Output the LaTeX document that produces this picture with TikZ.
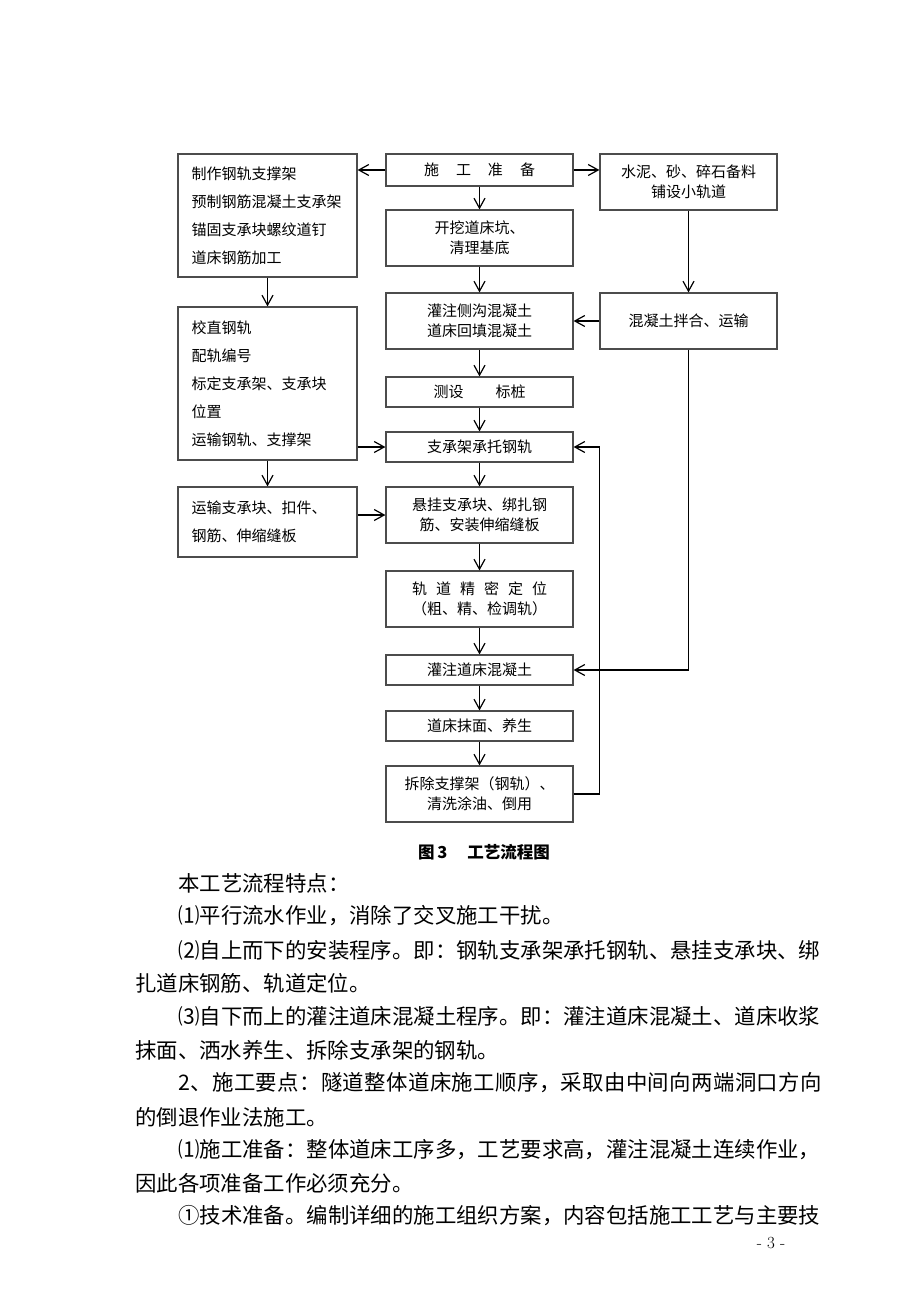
\documentclass[tikz,border=0pt]{standalone}
\usepackage{fontspec}
\newfontfamily\cjk{Noto Sans CJK SC}
\newfontfamily\cjkwide[LetterSpace=1.8]{Noto Sans CJK SC}
\usetikzlibrary{arrows.meta}

\tikzset{
  flow/.style={draw=black!70, line width=1.2pt, font=\cjk\fontsize{15pt}{20pt}\selectfont, align=center, inner sep=2pt},
  mid/.style={flow, minimum width=187pt},
  side/.style={flow, minimum width=177pt},
  list/.style={draw=black!70, line width=1.2pt, font=\cjk\fontsize{15pt}{28pt}\selectfont, align=left, text width=152pt, inner xsep=13.5pt},
  go/.style={-{Straight Barb[length=10pt,width=11pt]}, line width=1.2pt},
  body/.style={font=\cjk\fontsize{21.4pt}{21.4pt}\selectfont, anchor=west, inner sep=0pt}
}

\begin{document}
\begin{tikzpicture}[x=1pt,y=-1pt]
\useasboundingbox (0,0) rectangle (920,1300);

% middle column
\node[mid, minimum height=32pt] (prep) at (479.5,170) {施\hspace{17pt}工\hspace{17pt}准\hspace{17pt}备};
\node[mid, minimum height=56pt] (dig) at (479.5,238) {开挖道床坑、\\清理基底};
\node[mid, minimum height=56pt] (ditch) at (479.5,321) {灌注侧沟混凝土\\道床回填混凝土};
\node[mid, minimum height=30pt] (survey) at (479.5,392) {测设\hspace{32pt}标桩};
\node[mid, minimum height=30pt] (hold) at (479.5,447) {支承架承托钢轨};
\node[mid, minimum height=56pt] (hang) at (479.5,515) {悬挂支承块、绑扎钢\\筋、安装伸缩缝板};
\node[mid, minimum height=56pt] (align) at (479.5,599) {轨\hspace{9pt}道\hspace{9pt}精\hspace{9pt}密\hspace{9pt}定\hspace{9pt}位\\（粗、精、检调轨）};
\node[mid, minimum height=30pt] (pour) at (479.5,670) {灌注道床混凝土};
\node[mid, minimum height=30pt] (cure) at (479.5,726) {道床抹面、养生};
\node[mid, minimum height=56pt] (strip) at (479.5,794) {拆除支撑架（钢轨）、\\清洗涂油、倒用};

% left column
\node[list, minimum height=123pt] (make) at (267.5,215.5) {制作钢轨支撑架\\预制钢筋混凝土支承架\\锚固支承块螺纹道钉\\道床钢筋加工};
\node[list, minimum height=153pt] (rail) at (267.5,383.5) {校直钢轨\\配轨编号\\标定支承架、支承块\\位置\\运输钢轨、支撑架};
\node[list, minimum height=70pt] (haul) at (267.5,522) {运输支承块、扣件、\\钢筋、伸缩缝板};

% right column
\node[side, minimum height=56pt] (stock) at (688.5,182) {水泥、砂、碎石备料\\铺设小轨道};
\node[side, minimum height=56pt] (mix) at (688.5,321) {混凝土拌合、运输};

% connectors
\draw[go] (prep.west) -- (prep.west -| make.east);
\draw[go] (prep.east) -- (prep.east -| stock.west);
\draw[go] (prep) -- (dig);
\draw[go] (dig) -- (ditch);
\draw[go] (ditch) -- (survey);
\draw[go] (survey) -- (hold);
\draw[go] (hold) -- (hang);
\draw[go] (hang) -- (align);
\draw[go] (align) -- (pour);
\draw[go] (pour) -- (cure);
\draw[go] (cure) -- (strip);
\draw[go] (stock) -- (mix);
\draw[go] (mix) -- (ditch);
\draw[go] (make) -- (rail);
\draw[go] (rail) -- (haul);
\draw[go] (hold.west -| rail.east) -- (hold.west);
\draw[go] (hang.west -| haul.east) -- (hang.west);
\draw[go] (mix.south) |- (pour.east);
\draw[go] (strip.east) -- (strip.east -| mix.west) |- (hold.east);

% caption
\node[font=\cjk\bfseries\fontsize{16.5pt}{16.5pt}\selectfont] (cap) at (484,852) {图\,3\hspace{20pt}工艺流程图};

% text below
\node[body] (t1) at (178,883) {本工艺流程特点：};
\node[body] (t2) at (178,916) {⑴平行流水作业，消除了交叉施工干扰。};
\node[body] (t3) at (178,950) {⑵自上而下的安装程序。即：钢轨支承架承托钢轨、悬挂支承块、绑};
\node[body] (t4) at (135,983) {扎道床钢筋、轨道定位。};
\node[body] (t5) at (178,1016) {⑶自下而上的灌注道床混凝土程序。即：灌注道床混凝土、道床收浆};
\node[body] (t6) at (135,1050) {抹面、洒水养生、拆除支承架的钢轨。};
\node[body, font=\cjkwide\fontsize{21.4pt}{21.4pt}\selectfont] (t7) at (178,1083) {2、施工要点：隧道整体道床施工顺序，采取由中间向两端洞口方向};
\node[body] (t8) at (135,1117) {的倒退作业法施工。};
\node[body] (t9) at (178,1150) {⑴施工准备：整体道床工序多，工艺要求高，灌注混凝土连续作业，};
\node[body] (t10) at (135,1183) {因此各项准备工作必须充分。};
\node[body] (t11) at (178,1216) {①技术准备。编制详细的施工组织方案，内容包括施工工艺与主要技};
\node[font=\fontsize{17pt}{17pt}\selectfont] (page) at (771,1243) {- 3 -};
\end{tikzpicture}
\end{document}
